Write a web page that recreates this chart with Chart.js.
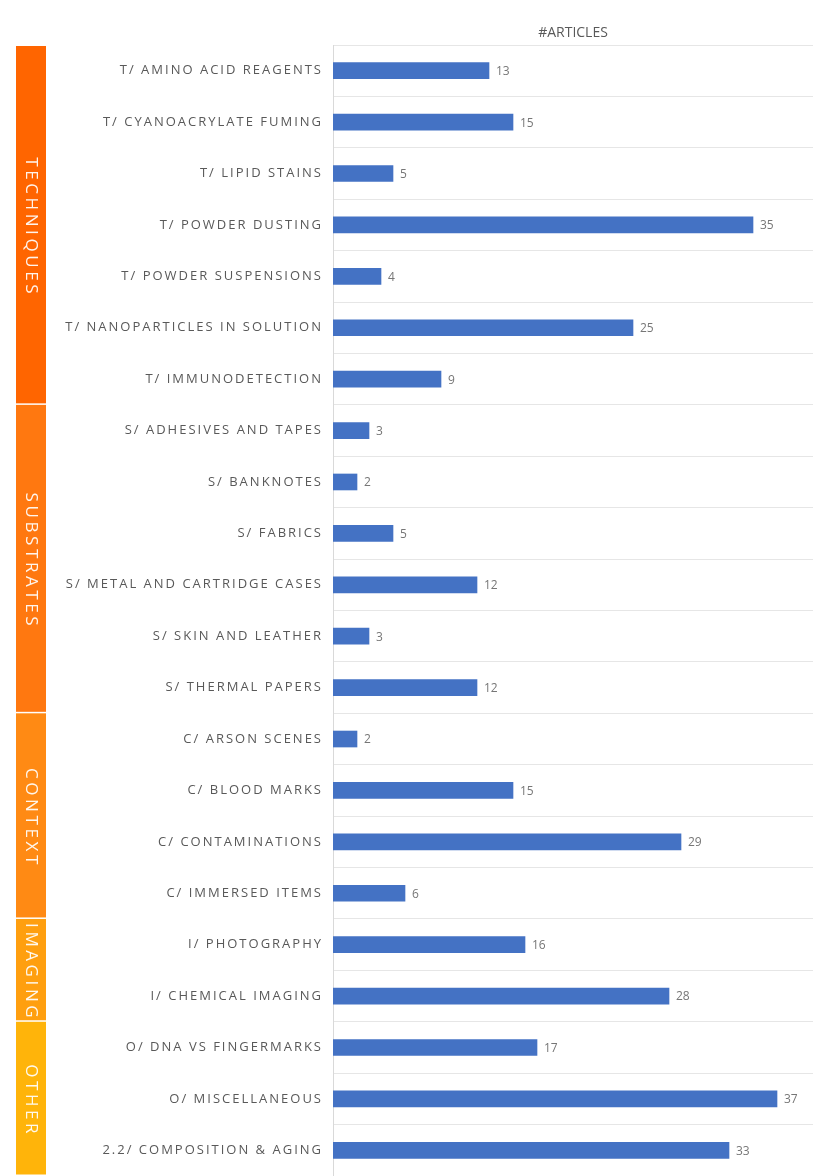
<!DOCTYPE html>
<html>
<head>
<meta charset="utf-8">
<script src="https://cdn.jsdelivr.net/npm/chart.js@4/dist/chart.umd.min.js"></script>
<style>
  html, body { margin: 0; padding: 0; background: #fff; }
  #wrap { width: 813px; height: 1176px; position: relative; }
</style>
</head>
<body>
<div id="wrap"><canvas id="c"></canvas></div>
<script>
// Topics as they read down the chart, article counts alongside.
const categories = [
  "T/ AMINO ACID REAGENTS",
  "T/ CYANOACRYLATE FUMING",
  "T/ LIPID STAINS",
  "T/ POWDER DUSTING",
  "T/ POWDER SUSPENSIONS",
  "T/ NANOPARTICLES IN SOLUTION",
  "T/ IMMUNODETECTION",
  "S/ ADHESIVES AND TAPES",
  "S/ BANKNOTES",
  "S/ FABRICS",
  "S/ METAL AND CARTRIDGE CASES",
  "S/ SKIN AND LEATHER",
  "S/ THERMAL PAPERS",
  "C/ ARSON SCENES",
  "C/ BLOOD MARKS",
  "C/ CONTAMINATIONS",
  "C/ IMMERSED ITEMS",
  "I/ PHOTOGRAPHY",
  "I/ CHEMICAL IMAGING",
  "O/ DNA VS FINGERMARKS",
  "O/ MISCELLANEOUS",
  "2.2/ COMPOSITION & AGING",
]
const articles = [13, 15, 5, 35, 4, 25, 9, 3, 2, 5, 12, 3, 12, 2, 15, 29, 6, 16, 28, 17, 37, 33]

// Side bands: how many rows each group covers, from the top.
const groupNames = ["TECHNIQUES", "SUBSTRATES", "CONTEXT", "IMAGING", "OTHER"]
const groupSizes = [7, 6, 4, 2, 3]
const groupColors = ["#ff6500", "#ff7810", "#ff8a14", "#ff9f0f", "#ffb40a"]

const GRAY = "#595959"
const LABEL_SPACING = "2px"

// Letter-spaced category labels: spacing on while the y scale draws,
// off again before the bars (the x title sits on a later layer, grid z: 1).
const spacing = {
  id: "spacing",
  beforeDraw(chart) { chart.ctx.letterSpacing = LABEL_SPACING },
  beforeDatasetsDraw(chart) { chart.ctx.letterSpacing = "0px" },
}

// Value next to the end of each bar.
const valueLabels = {
  id: "valueLabels",
  afterDatasetsDraw(chart) {
    const { ctx } = chart
    const meta = chart.getDatasetMeta(0)
    ctx.save()
    ctx.letterSpacing = "0px"
    ctx.font = "12px 'Open Sans', sans-serif"
    ctx.fillStyle = "#767676"
    ctx.textAlign = "left"
    ctx.textBaseline = "middle"
    meta.data.forEach((bar, i) => {
      ctx.fillText(String(articles[i]), bar.x + 7, bar.y + 1)
    })
    ctx.restore()
  },
}

// Coloured group bands on the far left, spanning their rows on the y scale.
const groupBands = {
  id: "groupBands",
  afterDraw(chart) {
    const { ctx } = chart
    const y = chart.scales.y
    const half = (y.getPixelForValue(1) - y.getPixelForValue(0)) / 2
    const x0 = 16, w = 30
    let start = 0
    ctx.save()
    groupNames.forEach((name, g) => {
      const end = start + groupSizes[g] - 1
      const top = y.getPixelForValue(start) - half + (g === 0 ? 1 : 0)
      const bot = y.getPixelForValue(end) + half
      ctx.fillStyle = groupColors[g]
      ctx.fillRect(x0, top, w, bot - top - 1.5)
      ctx.save()
      ctx.translate(x0 + w / 2, (top + bot) / 2)
      ctx.rotate(Math.PI / 2)
      ctx.font = "17px 'Open Sans', sans-serif"
      ctx.letterSpacing = "3.6px"
      ctx.fillStyle = "rgba(255,255,255,0.92)"
      ctx.textAlign = "center"
      ctx.textBaseline = "middle"
      ctx.fillText(name, 1.8, 0)
      ctx.restore()
      start = end + 1
    })
    ctx.restore()
  },
}

new Chart(document.getElementById("c"), {
  type: "bar",
  data: {
    labels: categories,
    datasets: [{
      data: articles,
      backgroundColor: "#4472c4",
      borderWidth: 0,
      barThickness: 16,
    }],
  },
  options: {
    indexAxis: "y",
    responsive: true,
    maintainAspectRatio: false,
    animation: false,
    plugins: { legend: { display: false }, tooltip: { enabled: false } },
    layout: { padding: 0 },
    scales: {
      x: {
        position: "top",
        min: 0,
        max: 40,
        grid: { display: false, z: 1 },
        border: { display: false },
        ticks: { display: false },
        title: {
          display: true,
          text: "#ARTICLES",
          color: GRAY,
          font: { family: "'Liberation Sans Narrow', 'Open Sans', sans-serif", size: 14 },
          padding: { top: 25, bottom: 0 },
        },
        afterFit(s) { s.height = 45 },
      },
      y: {
        grid: { color: "#e6e6e6", lineWidth: 1, drawTicks: false, offset: true },
        border: { color: "#d9d9d9" },
        ticks: {
          color: GRAY,
          padding: 10,
          font: { family: "'Open Sans', sans-serif", size: 13 },
          autoSkip: false,
        },
        afterFit(s) {
          s.width = 333
          s.paddingTop = 0
          s.paddingBottom = 0
        },
      },
    },
  },
  plugins: [spacing, valueLabels, groupBands],
})
</script>
</body>
</html>
